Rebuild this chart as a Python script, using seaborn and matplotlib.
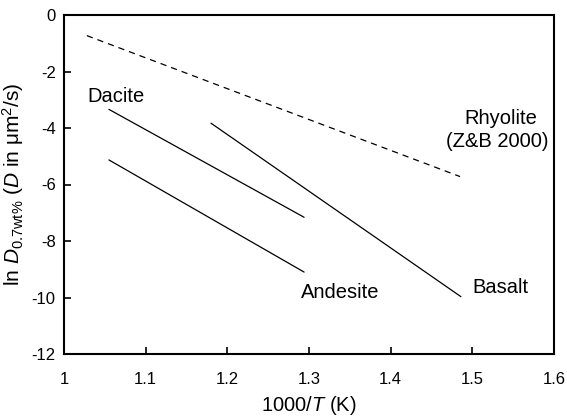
import matplotlib
matplotlib.use("Agg")
import matplotlib.pyplot as plt
import seaborn as sns
import pandas as pd

sns.set_theme(style="ticks")
plt.rcParams["font.family"] = ["Liberation Sans", "DejaVu Sans"]
plt.rcParams["mathtext.fontset"] = "custom"
plt.rcParams["mathtext.rm"] = "Liberation Sans"
plt.rcParams["mathtext.it"] = "Liberation Sans:italic"

# Arrhenius lines: end points in 1000/T (K) and ln D
rhyolite_x = [1.028, 1.485]
rhyolite_y = [-0.73, -5.72]
dacite_x = [1.055, 1.294]
dacite_y = [-3.34, -7.16]
andesite_x = [1.055, 1.294]
andesite_y = [-5.13, -9.10]
basalt_x = [1.180, 1.486]
basalt_y = [-3.83, -9.97]

x_ticks = [1, 1.1, 1.2, 1.3, 1.4, 1.5, 1.6]
x_tick_labels = ["1", "1.1", "1.2", "1.3", "1.4", "1.5", "1.6"]
y_ticks = [0, -2, -4, -6, -8, -10, -12]

fig = plt.figure(figsize=(5.67, 4.2), dpi=100)
ax = fig.add_axes([64 / 567, 1 - 354 / 420, 490 / 567, 339 / 420])

series = [
    (rhyolite_x, rhyolite_y, (0, (5, 4))),
    (dacite_x, dacite_y, "-"),
    (andesite_x, andesite_y, "-"),
    (basalt_x, basalt_y, "-"),
]
for xs, ys, ls in series:
    df = pd.DataFrame({"x": xs, "y": ys})
    sns.lineplot(data=df, x="x", y="y", ax=ax, color="black", lw=0.9,
                 linestyle=ls, estimator=None, sort=False)

ax.set_xlim(1, 1.6)
ax.set_ylim(-12, 0)
ax.set_xticks(x_ticks)
ax.set_xticklabels(x_tick_labels)
ax.set_yticks(y_ticks)
ax.set_yticklabels([str(v) for v in y_ticks])
ax.tick_params(direction="in", length=5, width=1.2, labelsize=12, color="black",
               labelcolor="black", pad=6)
ax.tick_params(axis="x", pad=13)
for s in ax.spines.values():
    s.set_linewidth(1.5)
    s.set_color("black")

ax.set_xlabel("1000/$T$ (K)", fontsize=14.5, color="black", labelpad=5)
ax.set_ylabel(r"ln $D_{\mathregular{0.7wt\%}}$ ($D$ in μm$^\mathregular{2}$/s)",
              fontsize=15, color="black", labelpad=4)

txt = dict(fontsize=14.5, color="black", ha="center", va="center")
ax.text(1.064, -2.9, "Dacite", **txt)
ax.text(1.338, -9.83, "Andesite", **txt)
ax.text(1.535, -9.66, "Basalt", **txt)
ax.text(1.535, -3.65, "Rhyolite", **txt)
ax.text(1.530, -4.48, "(Z&B 2000)", **txt)

fig.savefig("out.png", dpi=100)
